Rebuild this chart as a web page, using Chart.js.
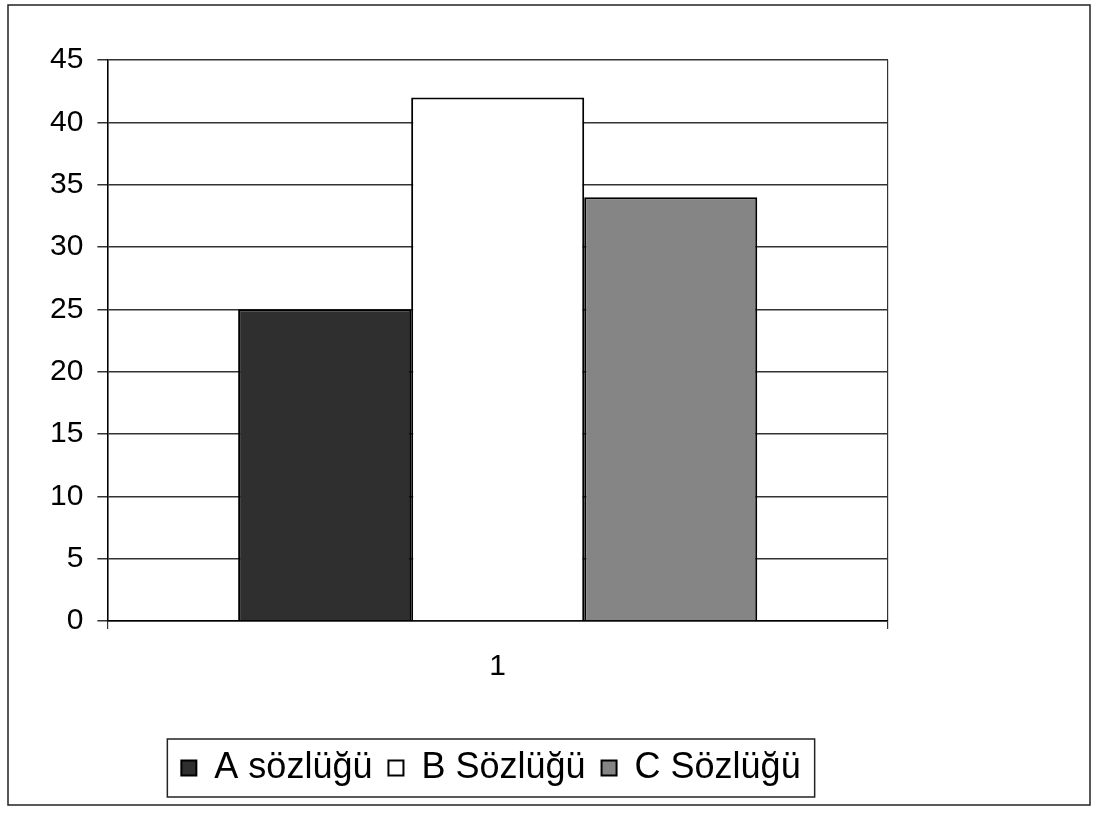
<!DOCTYPE html>
<html>
<head>
<meta charset="utf-8">
<script src="https://cdn.jsdelivr.net/npm/chart.js@4"></script>
<style>
  body { margin: 0; background: #fff; }
  #wrap { width: 1100px; height: 816px; }
</style>
</head>
<body>
<div id="wrap"><canvas id="myChart"></canvas></div>
<script>
const categories = ['1'];
const seriesNames = ['A sözlüğü', 'B Sözlüğü', 'C Sözlüğü'];
const valuesA = [25];
const valuesB = [42];
const valuesC = [34];
const yMax = 45;
const yStep = 5;

const frame = {
  id: 'frame',
  afterDraw(chart) {
    const c = chart.ctx;
    c.save();
    c.strokeStyle = '#222';
    c.lineWidth = 1.5;
    c.strokeRect(8, 5, 1082, 800);
    // box round the legend
    const boxes = chart.legend.legendHitBoxes;
    if (boxes && boxes.length) {
      const l = Math.min(...boxes.map(b => b.left)) - 14;
      const r = Math.max(...boxes.map(b => b.left + b.width)) + 14;
      const t = Math.min(...boxes.map(b => b.top)) - 11;
      const btm = Math.max(...boxes.map(b => b.top + b.height)) + 11;
      c.strokeRect(l, t, r - l, btm - t);
    }
    c.restore();
  }
};

const ctx = document.getElementById('myChart');

new Chart(ctx, {
  type: 'bar',
  data: {
    labels: categories,
    datasets: [{
      label: seriesNames[0],
      data: valuesA,
      backgroundColor: '#2f2f2f',
      borderColor: '#000',
      borderWidth: 2
    }, {
      label: seriesNames[1],
      data: valuesB,
      backgroundColor: '#ffffff',
      borderColor: '#000',
      borderWidth: 2
    }, {
      label: seriesNames[2],
      data: valuesC,
      backgroundColor: '#858585',
      borderColor: '#000',
      borderWidth: 2
    }]
  },
  plugins: [frame],
  options: {
    responsive: true,
    maintainAspectRatio: false,
    animation: false,
    devicePixelRatio: 1,
    categoryPercentage: 0.665,
    barPercentage: 1,
    layout: {
      padding: { top: 60, left: 36, right: 154, bottom: 20 }
    },
    scales: {
      x: {
        grid: { display: true, color: '#333', lineWidth: 1.2, tickLength: 8 },
        border: { color: '#000', width: 1.5 },
        ticks: { color: '#000', padding: 20, font: { family: 'Liberation Sans', size: 30 } },
        afterFit(scale) { scale.height += 29; }
      },
      y: {
        min: 0,
        max: yMax,
        ticks: { stepSize: yStep, color: '#000', padding: 14, font: { family: 'Liberation Sans', size: 30 } },
        grid: { color: '#333', lineWidth: 1.5, tickLength: 10 },
        border: { color: '#000', width: 1.5 }
      },
      yRight: {
        position: 'right',
        display: true,
        grid: { display: false },
        ticks: { display: false },
        border: { display: false },
        afterFit(scale) { scale.width = 58; }
      }
    },
    plugins: {
      legend: {
        position: 'bottom',
        labels: {
          color: '#000',
          boxWidth: 15,
          boxHeight: 15,
          padding: 16,
          font: { family: 'Liberation Sans', size: 36 }
        }
      },
      tooltip: { enabled: false }
    }
  }
});
</script>
</body>
</html>
